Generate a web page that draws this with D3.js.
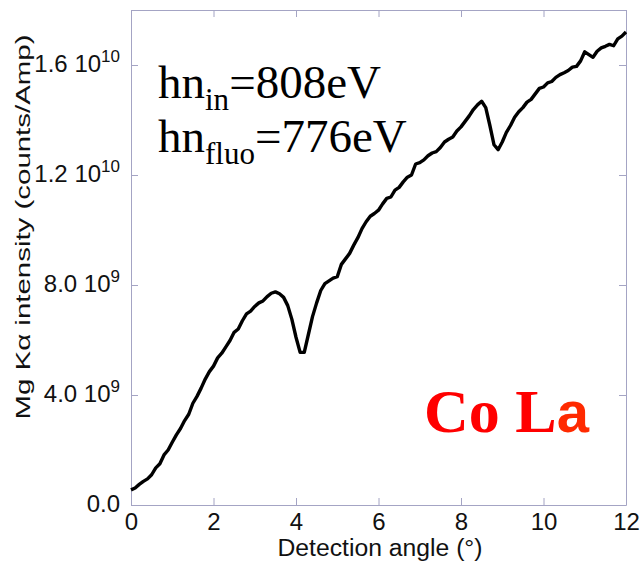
<!DOCTYPE html>
<html>
<head>
<meta charset="utf-8">
<script src="https://cdn.jsdelivr.net/npm/d3@7"></script>
<style>
  body { margin: 0; background: #fff; }
  svg { display: block; }
</style>
</head>
<body>
<svg id="chart" width="641" height="565"></svg>
<script>
// detection angle (deg)
var angles = [];
for (var i = 0; i <= 120; i++) angles.push(i / 10);

// intensity in units of 1e9 counts/Amp
var intensity = [
  0.55, 0.62, 0.75, 0.86, 0.95, 1.10, 1.35, 1.50, 1.82, 2.00,
  2.28, 2.55, 2.78, 3.07, 3.30, 3.70, 3.95, 4.25, 4.58, 4.85,
  5.05, 5.35, 5.52, 5.75, 5.98, 6.28, 6.40, 6.70, 6.95, 7.05,
  7.22, 7.35, 7.42, 7.58, 7.70, 7.75, 7.68, 7.55, 7.25, 6.75,
  6.10, 5.55, 5.55, 6.20, 6.85, 7.35, 7.80, 8.05, 8.15, 8.25,
  8.30, 8.75, 8.95, 9.15, 9.45, 9.72, 10.05, 10.30, 10.50, 10.60,
  10.72, 10.95, 11.15, 11.20, 11.45, 11.55, 11.75, 11.92, 12.00, 12.40,
  12.45, 12.55, 12.70, 12.80, 12.85, 13.00, 13.20, 13.30, 13.38, 13.60,
  13.75, 13.95, 14.15, 14.38, 14.55, 14.68, 14.45, 13.80, 13.10, 12.92,
  13.20, 13.55, 13.80, 14.10, 14.30, 14.45, 14.65, 14.75, 14.95, 15.15,
  15.20, 15.35, 15.40, 15.55, 15.65, 15.72, 15.80, 15.92, 15.95, 16.15,
  16.48, 16.38, 16.28, 16.50, 16.62, 16.68, 16.75, 16.70, 16.95, 17.05,
  17.20
];

var xTicks = [0, 2, 4, 6, 8, 10, 12];
var yTicks = [0, 4e9, 8e9, 1.2e10, 1.6e10];
var yTickMant = ["0.0", "4.0", "8.0", "1.2", "1.6"];
var yTickExp = ["", "9", "9", "10", "10"];

var pLeft = 131, pRight = 626, pTop = 10, pBottom = 505;
var axisColor = "#a4a4c4";
var sans = "'Liberation Sans', Arial, sans-serif";
var serif = "'Liberation Serif', 'Times New Roman', serif";

var svg = d3.select("#chart");

var x = d3.scaleLinear().domain([0, 12]).range([pLeft, pRight]);
var y = d3.scaleLinear().domain([0, 1.8e10]).range([pBottom, pTop]);

function styleAxis(g) {
  g.select(".domain").attr("stroke", axisColor).attr("stroke-width", 1);
  g.selectAll(".tick line").attr("stroke", axisColor).attr("stroke-width", 1);
}

// bottom axis with labels
svg.append("g")
  .attr("transform", "translate(0," + pBottom + ")")
  .call(d3.axisBottom(x).tickValues(xTicks).tickSize(-7).tickPadding(8).tickSizeOuter(0))
  .call(styleAxis)
  .call(function(g) {
    g.selectAll(".tick text")
      .attr("fill", "#111")
      .style("font-family", sans)
      .style("font-size", "24px");
  });

// top axis, ticks only
svg.append("g")
  .attr("transform", "translate(0," + pTop + ")")
  .call(d3.axisTop(x).tickValues(xTicks).tickSize(-7).tickFormat("").tickSizeOuter(0))
  .call(styleAxis);

// left axis
svg.append("g")
  .attr("transform", "translate(" + pLeft + ",0)")
  .call(d3.axisLeft(y).tickValues(yTicks).tickSize(-7).tickFormat("").tickSizeOuter(0))
  .call(styleAxis);

// right axis
svg.append("g")
  .attr("transform", "translate(" + pRight + ",0)")
  .call(d3.axisRight(y).tickValues(yTicks).tickSize(-7).tickFormat("").tickSizeOuter(0))
  .call(styleAxis);

// y axis title (drawn first, tick labels sit on top of it as in the original)
svg.append("text")
  .attr("transform", "translate(30,227) rotate(-90)")
  .attr("text-anchor", "middle")
  .attr("fill", "#111")
  .attr("textLength", 385)
  .attr("lengthAdjust", "spacingAndGlyphs")
  .style("font-family", sans)
  .style("font-size", "21px")
  .text("Mg Kα intensity (counts/Amp)");

// y tick labels with exponents
var yl = svg.append("g")
  .style("font-family", sans)
  .attr("fill", "#111");
yTicks.forEach(function(v, i) {
  var t = yl.append("text")
    .attr("x", 120)
    .attr("y", y(v) + 7)
    .attr("text-anchor", "end")
    .style("font-size", "24px");
  if (yTickExp[i] === "") {
    t.text(yTickMant[i]);
  } else {
    t.append("tspan").text(yTickMant[i] + " 10");
    t.append("tspan").attr("dy", -10).style("font-size", "17px").text(yTickExp[i]);
  }
});

// x axis title
svg.append("text")
  .attr("x", 380)
  .attr("y", 556)
  .attr("text-anchor", "middle")
  .attr("fill", "#111")
  .attr("textLength", 205)
  .attr("lengthAdjust", "spacingAndGlyphs")
  .style("font-family", sans)
  .style("font-size", "23px")
  .text("Detection angle (°)");

// data line
var data = angles.map(function(a, i) { return [a, intensity[i] * 1e9]; });
var line = d3.line()
  .x(function(d) { return x(d[0]); })
  .y(function(d) { return y(d[1]); });

svg.append("path")
  .datum(data)
  .attr("d", line)
  .attr("fill", "none")
  .attr("stroke", "#000")
  .attr("stroke-width", 3.4)
  .attr("stroke-linejoin", "round");

// annotations
var ann = svg.append("g")
  .style("font-family", serif)
  .attr("fill", "#000");

var t1 = ann.append("text").attr("x", 158).attr("y", 98).style("font-size", "47px");
t1.append("tspan").text("hn");
t1.append("tspan").attr("dy", 12).style("font-size", "31px").text("in");
t1.append("tspan").attr("dy", -12).text("=808eV");

var t2 = ann.append("text").attr("x", 158).attr("y", 152).style("font-size", "47px");
t2.append("tspan").text("hn");
t2.append("tspan").attr("dy", 12).style("font-size", "31px").text("fluo");
t2.append("tspan").attr("dy", -12).text("=776eV");

var co = svg.append("text")
  .attr("x", 424)
  .attr("y", 432)
  .attr("fill", "#ff0000")
  .style("font-weight", "bold")
  .style("font-size", "62px");
co.append("tspan")
  .style("font-family", serif)
  .text("Co L");
co.append("tspan")
  .style("font-family", sans)
  .style("font-size", "58px")
  .attr("fill", "#ff2a00")
  .text("a");
</script>
</body>
</html>
